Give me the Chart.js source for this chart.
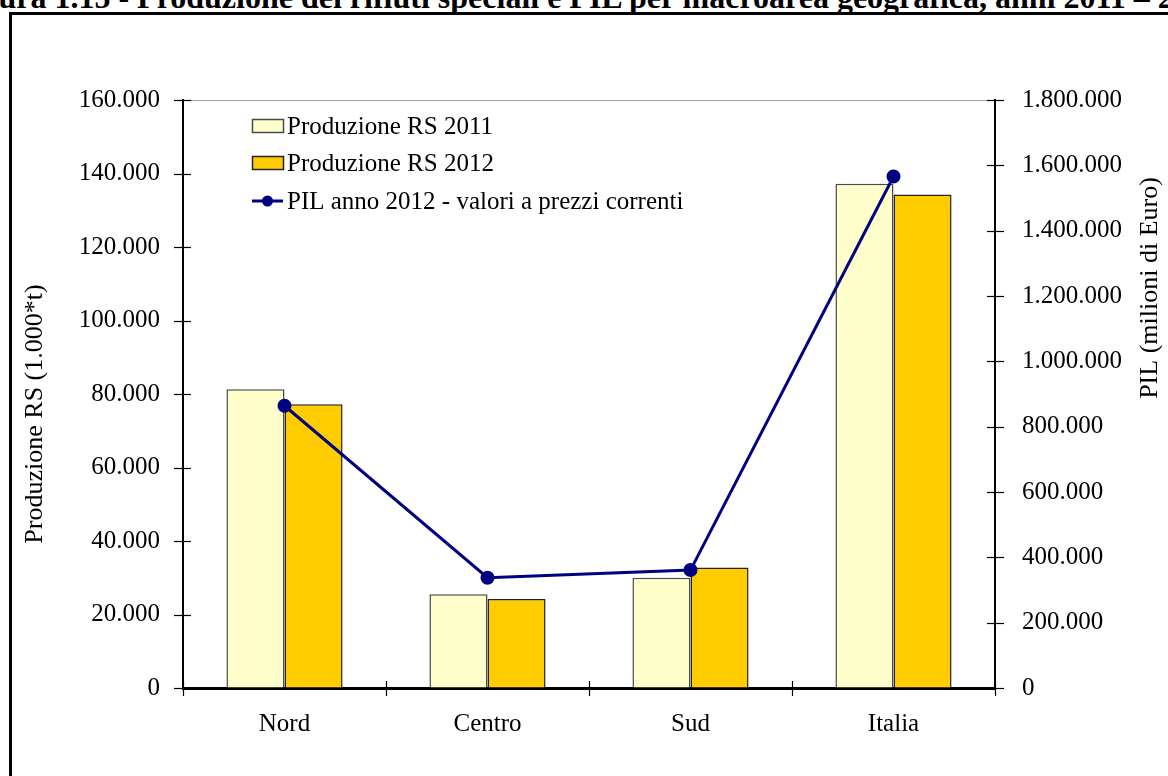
<!DOCTYPE html>
<html lang="it">
<head>
<meta charset="utf-8">
<title>Produzione dei rifiuti speciali e PIL per macroarea geografica</title>
<script src="https://cdn.jsdelivr.net/npm/chart.js@4.4.1/dist/chart.umd.min.js"></script>
<style>
  html, body { margin: 0; padding: 0; background: #fff; }
  body { width: 1168px; height: 776px; overflow: hidden; position: relative; }
  #frame {
    position: absolute; left: 9px; top: 12px; width: 1200px; height: 800px;
    border-left: 3px solid #000; border-top: 3px solid #000;
  }
  #heading {
    position: absolute; left: -46px; top: -19px; white-space: nowrap;
    font: bold 32px/32px "Liberation Serif", "Times New Roman", serif; color: #000;
  }
  #chart { position: absolute; left: 0; top: 0; }
</style>
</head>
<body>
<div id="frame"></div>
<div id="heading">Figura 1.15 - Produzione dei rifiuti speciali e PIL per macroarea geografica, anni 2011 – 2012</div>
<canvas id="chart" width="1168" height="776"></canvas>
<script>
// Macro-areas and values (RS in thousands of tonnes, PIL in millions of euro)
const categories = ['Nord', 'Centro', 'Sud', 'Italia'];
const rs2011 = [81300, 25500, 30000, 137200];
const rs2012 = [77200, 24200, 32800, 134300];
const pil2012 = [864000, 337500, 361000, 1566000];

// Axis tick labels (Italian thousands separator)
const rsTickLabels = ['0', '20.000', '40.000', '60.000', '80.000', '100.000', '120.000', '140.000', '160.000'];
const pilTickLabels = ['0', '200.000', '400.000', '600.000', '800.000', '1.000.000', '1.200.000', '1.400.000', '1.600.000', '1.800.000'];

const FONT = '"Liberation Serif", "Times New Roman", serif';
const FS = 25;

// Crossing tick marks on every axis, plus the thin top edge of the plot
const axisMarks = {
  id: 'axisMarks',
  afterDraw(chart) {
    const ctx = chart.ctx;
    const a = chart.chartArea;
    ctx.save();
    ctx.strokeStyle = '#a0a0a0';
    ctx.lineWidth = 1;
    ctx.beginPath();
    ctx.moveTo(a.left, a.top + 0.5);
    ctx.lineTo(a.right, a.top + 0.5);
    ctx.stroke();

    ctx.strokeStyle = '#000';
    ctx.lineWidth = 1.2;
    const y = chart.scales.y, y1 = chart.scales.y1, x = chart.scales.x;
    y.ticks.forEach((t, i) => {
      const p = Math.round(y.getPixelForTick(i)) + 0.5;
      ctx.beginPath(); ctx.moveTo(a.left - 9, p); ctx.lineTo(a.left + 8, p); ctx.stroke();
    });
    y1.ticks.forEach((t, i) => {
      const p = Math.round(y1.getPixelForTick(i)) + 0.5;
      ctx.beginPath(); ctx.moveTo(a.right - 8, p); ctx.lineTo(a.right + 9, p); ctx.stroke();
    });
    const n = x.ticks.length;
    for (let i = 0; i <= n; i++) {
      const p = Math.round(x.left + i * x.width / n) + 0.5;
      ctx.beginPath(); ctx.moveTo(p, a.bottom - 7); ctx.lineTo(p, a.bottom + 8); ctx.stroke();
    }
    ctx.restore();
  }
};

// Axis titles
const axisTitles = {
  id: 'axisTitles',
  afterDraw(chart) {
    const ctx = chart.ctx;
    const drawVertical = (text, cx, cy) => {
      ctx.save();
      ctx.fillStyle = '#000';
      ctx.font = '26px ' + FONT;
      ctx.textAlign = 'center';
      ctx.textBaseline = 'middle';
      ctx.translate(cx, cy);
      ctx.rotate(-Math.PI / 2);
      ctx.fillText(text, 0, 0);
      ctx.restore();
    };
    drawVertical('Produzione RS (1.000*t)', 35, 414);
    drawVertical('PIL (milioni di Euro)', 1150, 288);
  }
};

// Legend drawn inside the plot area, top-left
const innerLegend = {
  id: 'innerLegend',
  afterDraw(chart) {
    const ctx = chart.ctx;
    const x0 = 252, sw = 31, tx = 287;
    const rows = [126, 163, 201];
    const order = [1, 2, 0];
    ctx.save();
    ctx.font = FS + 'px ' + FONT;
    ctx.textBaseline = 'middle';
    ctx.textAlign = 'left';
    order.forEach((di, r) => {
      const ds = chart.data.datasets[di];
      const cy = rows[r];
      if (ds.type === 'line') {
        ctx.strokeStyle = ds.borderColor;
        ctx.lineWidth = 3;
        ctx.beginPath(); ctx.moveTo(x0, cy); ctx.lineTo(x0 + sw, cy); ctx.stroke();
        ctx.fillStyle = ds.pointBackgroundColor;
        ctx.beginPath(); ctx.arc(x0 + sw / 2, cy, 5.5, 0, Math.PI * 2); ctx.fill();
      } else {
        ctx.fillStyle = ds.backgroundColor;
        ctx.fillRect(x0, cy - 7, sw, 13);
        ctx.strokeStyle = ds.borderColor;
        ctx.lineWidth = 1.5;
        ctx.strokeRect(x0 + 0.5, cy - 6.5, sw, 13);
      }
      ctx.fillStyle = '#000';
      ctx.fillText(ds.label, tx, cy + 1);
    });
    ctx.restore();
  }
};

new Chart(document.getElementById('chart'), {
  type: 'bar',
  data: {
    labels: categories,
    datasets: [
      {
        type: 'line',
        label: 'PIL anno 2012 - valori a prezzi correnti',
        data: pil2012,
        yAxisID: 'y1',
        borderColor: '#000080',
        backgroundColor: '#000080',
        pointBackgroundColor: '#000080',
        pointBorderColor: '#000080',
        borderWidth: 3,
        pointRadius: 5.5,
        tension: 0,
        order: 0
      },
      {
        label: 'Produzione RS 2011',
        data: rs2011,
        yAxisID: 'y',
        backgroundColor: '#FFFFCC',
        borderColor: '#4a4a4a',
        borderWidth: 1.5,
        categoryPercentage: 0.572,
        barPercentage: 1.0,
        order: 1
      },
      {
        label: 'Produzione RS 2012',
        data: rs2012,
        yAxisID: 'y',
        backgroundColor: '#FFCC00',
        borderColor: '#222222',
        borderWidth: 1.5,
        categoryPercentage: 0.572,
        barPercentage: 1.0,
        order: 2
      }
    ]
  },
  options: {
    responsive: false,
    animation: false,
    devicePixelRatio: 1,
    layout: { padding: { top: 100, left: 0, right: 0, bottom: 0 } },
    plugins: {
      legend: { display: false },
      tooltip: { enabled: false },
      title: { display: false }
    },
    scales: {
      x: {
        offset: true,
        grid: { display: true, drawOnChartArea: false, drawTicks: false },
        border: { display: true, color: '#000', width: 3 },
        ticks: { color: '#000', font: { family: FONT, size: FS }, padding: 21, maxRotation: 0 },
        afterFit(s) { s.height = 88; }
      },
      y: {
        position: 'left',
        min: 0, max: 160000,
        grid: { display: true, drawOnChartArea: false, drawTicks: false },
        border: { display: true, color: '#000', width: 2 },
        ticks: {
          stepSize: 20000, color: '#000', font: { family: FONT, size: FS }, padding: 23,
          callback: (v, i) => rsTickLabels[i]
        },
        afterFit(s) { s.width = 183; }
      },
      y1: {
        position: 'right',
        min: 0, max: 1800000,
        grid: { display: true, drawOnChartArea: false, drawTicks: false },
        border: { display: true, color: '#000', width: 2 },
        ticks: {
          stepSize: 200000, color: '#000', font: { family: FONT, size: FS }, padding: 27,
          callback: (v, i) => pilTickLabels[i]
        },
        afterFit(s) { s.width = 173; }
      }
    }
  },
  plugins: [axisMarks, axisTitles, innerLegend]
});
</script>
</body>
</html>
